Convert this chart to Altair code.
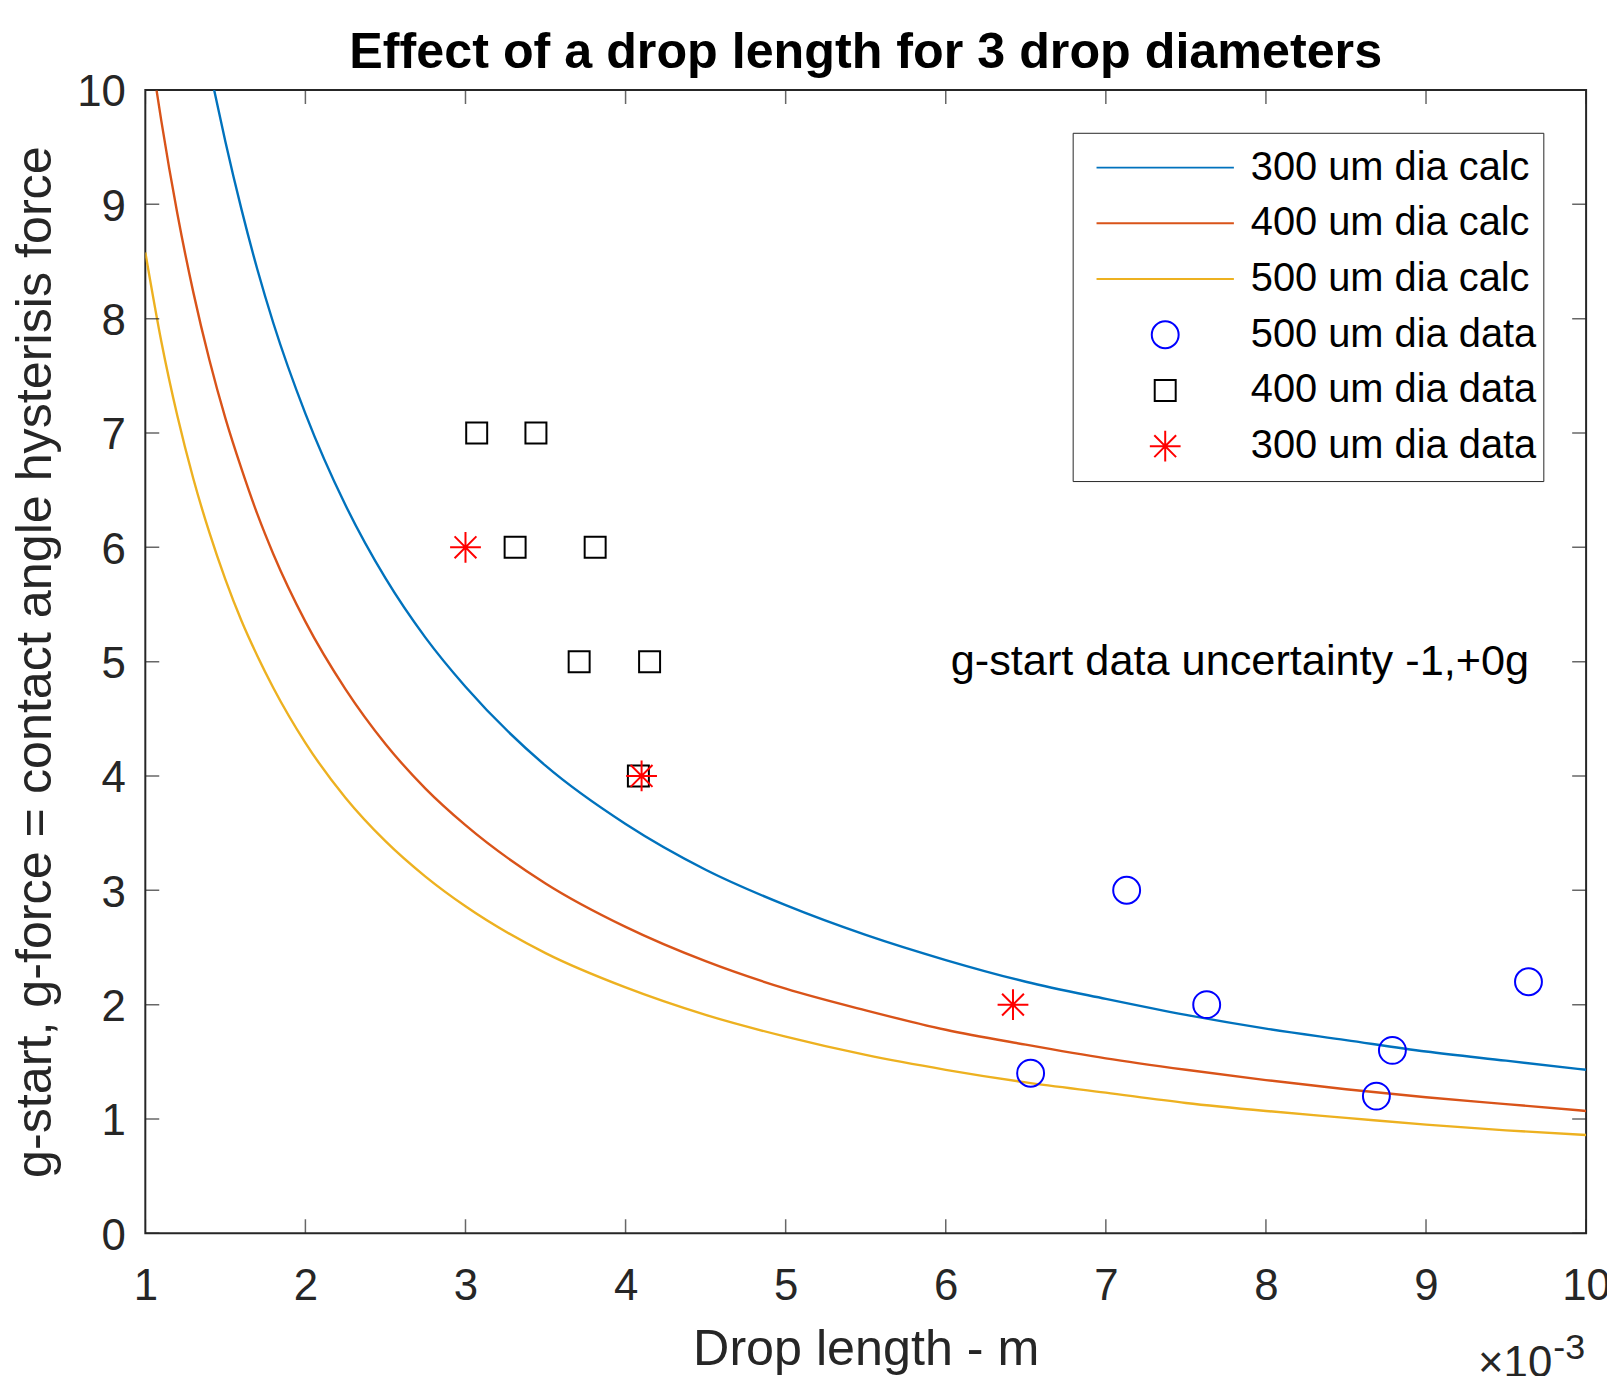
import altair as alt
import pandas as pd

# ---------------- data ----------------
series_names = ["300 um dia calc", "400 um dia calc", "500 um dia calc",
                "500 um dia data", "400 um dia data", "300 um dia data"]

# calculated curves (x in units of 1e-3 m)
calc300_x = [1.43, 1.5, 1.6, 1.7, 1.8, 2.0, 2.25, 2.5, 2.75, 3.0, 3.5, 4.0, 4.5,
             5.0, 5.5, 6.0, 6.5, 7.0, 7.5, 8.0, 8.5, 9.0, 9.5, 10.0]
calc300_y = [10.0, 9.55, 8.96, 8.43, 7.96, 7.17, 6.37, 5.73, 5.21, 4.78, 4.09, 3.58, 3.18,
             2.87, 2.61, 2.39, 2.20, 2.05, 1.91, 1.79, 1.69, 1.59, 1.51, 1.43]
calc400_x = [1.07, 1.1, 1.2, 1.3, 1.4, 1.5, 1.6, 1.7, 1.8, 2.0, 2.25, 2.5, 2.75, 3.0, 3.5,
             4.0, 4.5, 5.0, 5.5, 6.0, 6.5, 7.0, 7.5, 8.0, 8.5, 9.0, 9.5, 10.0]
calc400_y = [10.0, 9.73, 8.92, 8.23, 7.64, 7.13, 6.69, 6.29, 5.94, 5.35, 4.76, 4.28, 3.89, 3.57, 3.06,
             2.68, 2.38, 2.14, 1.95, 1.78, 1.65, 1.53, 1.43, 1.34, 1.26, 1.19, 1.13, 1.07]
calc500_x = [1.0, 1.1, 1.2, 1.3, 1.4, 1.5, 1.6, 1.7, 1.8, 2.0, 2.25, 2.5, 2.75, 3.0, 3.5,
             4.0, 4.5, 5.0, 5.5, 6.0, 6.5, 7.0, 7.5, 8.0, 8.5, 9.0, 9.5, 10.0]
calc500_y = [8.58, 7.80, 7.15, 6.60, 6.13, 5.72, 5.36, 5.05, 4.77, 4.29, 3.81, 3.43, 3.12, 2.86, 2.45,
             2.15, 1.91, 1.72, 1.56, 1.43, 1.32, 1.23, 1.14, 1.07, 1.01, 0.95, 0.90, 0.86]

# measured data
data500_x = [6.53, 7.13, 7.63, 8.69, 8.79, 9.64]
data500_y = [1.4, 3.0, 2.0, 1.2, 1.6, 2.2]
data400_x = [3.07, 3.44, 3.31, 3.81, 3.71, 4.15, 4.08]
data400_y = [7.0, 7.0, 6.0, 6.0, 5.0, 5.0, 4.0]
data300_x = [3.0, 4.10, 6.42]
data300_y = [6.0, 4.0, 2.0]

x_ticks = [1, 2, 3, 4, 5, 6, 7, 8, 9, 10]
y_ticks = [0, 1, 2, 3, 4, 5, 6, 7, 8, 9, 10]

title_text = ["Effect of a drop length for 3 drop diameters"]
x_title = "Drop length - m"
y_title = "g-start, g-force = contact angle hysterisis force"
note_text = ["g-start data uncertainty -1,+0g"]
exp_base = ["\u00d710"]
exp_power = ["-3"]

# ---------------- tables ----------------
line_df = pd.concat([
    pd.DataFrame({"x": calc300_x, "y": calc300_y, "series": series_names[0]}),
    pd.DataFrame({"x": calc400_x, "y": calc400_y, "series": series_names[1]}),
    pd.DataFrame({"x": calc500_x, "y": calc500_y, "series": series_names[2]}),
], ignore_index=True)
pt_df = pd.concat([
    pd.DataFrame({"x": data500_x, "y": data500_y, "series": series_names[3]}),
    pd.DataFrame({"x": data400_x, "y": data400_y, "series": series_names[4]}),
    pd.DataFrame({"x": data300_x, "y": data300_y, "series": series_names[5]}),
], ignore_index=True)
xt_df = pd.DataFrame({"v": x_ticks})
yt_df = pd.DataFrame({"v": y_ticks})

# ---------------- styles ----------------
FONT = "Liberation Sans"
AX = "#262626"
S = 170  # symbol box side (px)
series_colors = ["#0072BD", "#D95319", "#EDB120", "#0000FF", "#000000", "#FF0000"]
line_path = "M-0.812,0H0.812"
circle_path = "M0.159,0A0.159,0.159,0,1,1,-0.159,0A0.159,0.159,0,1,1,0.159,0Z"
square_path = "M-0.124,-0.124H0.124V0.124H-0.124Z"
star_path = ("M0,-0.182V0.182M-0.182,0H0.182"
             "M-0.129,-0.129L0.129,0.129M-0.129,0.129L0.129,-0.129")
series_shapes = [line_path, line_path, line_path, circle_path, square_path, star_path]

xscale = alt.Scale(domain=[1, 10], nice=False, zero=False)
yscale = alt.Scale(domain=[0, 10], nice=False, zero=False)

xaxis = alt.Axis(values=x_ticks, format="d", title=x_title, grid=False, domain=False,
                 ticks=False, tickSize=0, labelFont=FONT, labelFontSize=44,
                 labelColor=AX, labelPadding=67, labelBaseline="alphabetic",
                 labelFlush=False, labelOverlap=False, titleFont=FONT,
                 titleFontSize=50.5, titleFontWeight="normal", titleColor=AX,
                 titleY=132, titleBaseline="alphabetic")
yaxis = alt.Axis(values=y_ticks, format="d", title=y_title, grid=False, domain=False,
                 ticks=False, tickSize=0, labelFont=FONT, labelFontSize=44,
                 labelColor=AX, labelPadding=20, labelBaseline="middle",
                 labelOffset=3, labelFlush=False, labelOverlap=False,
                 titleFont=FONT, titleFontSize=50.5, titleFontWeight="normal",
                 titleColor=AX, titleX=-95, titleY=574.5, titleAngle=270,
                 titleAlign="center", titleBaseline="alphabetic")

legend = alt.Legend(title=None, orient="none", legendX=932, legendY=43, padding=7,
                    strokeColor=AX, fillColor="white", labelFont=FONT,
                    labelFontSize=40, labelColor="black", labelLimit=600,
                    symbolSize=S * S, clipHeight=56, rowPadding=0, labelOffset=0,
                    symbolStrokeWidth=2)

color = alt.Color("series:N", scale=alt.Scale(domain=series_names, range=series_colors),
                  legend=legend)
shape = alt.Shape("series:N", scale=alt.Scale(domain=series_names, range=series_shapes),
                  legend=legend)

X = alt.X("x:Q", scale=xscale, axis=xaxis)
Y = alt.Y("y:Q", scale=yscale, axis=yaxis)

lines = alt.Chart(line_df).mark_line(strokeWidth=2.4, clip=True, interpolate="monotone").encode(
    x=X, y=Y, color=color)

points = alt.Chart(pt_df).mark_point(size=S * S, filled=False, strokeWidth=2,
                                     opacity=1).encode(x=X, y=Y, color=color, shape=shape)

tick_style = dict(size=28, thickness=1.5, color=AX, clip=True)
bottom_ticks = alt.Chart(xt_df).mark_tick(orient="vertical", **tick_style).encode(
    x=alt.X("v:Q", scale=xscale), y=alt.datum(0))
top_ticks = alt.Chart(xt_df).mark_tick(orient="vertical", **tick_style).encode(
    x=alt.X("v:Q", scale=xscale), y=alt.datum(10))
left_ticks = alt.Chart(yt_df).mark_tick(orient="horizontal", **tick_style).encode(
    y=alt.Y("v:Q", scale=yscale), x=alt.datum(1))
right_ticks = alt.Chart(yt_df).mark_tick(orient="horizontal", **tick_style).encode(
    y=alt.Y("v:Q", scale=yscale), x=alt.datum(10))

title = alt.Chart(pd.DataFrame({"label": title_text})).mark_text(
    align="center", baseline="alphabetic", font=FONT, fontSize=50.5, fontWeight="bold",
    color="black").encode(x=alt.value(724), y=alt.value(-22), text="label:N")

note = alt.Chart(pd.DataFrame({"label": note_text})).mark_text(
    align="left", baseline="middle", font=FONT, fontSize=43.5, color="black", dx=5).encode(
    x=alt.datum(6), y=alt.datum(5), text="label:N")

exp1 = alt.Chart(pd.DataFrame({"label": exp_base})).mark_text(
    align="right", baseline="alphabetic", font=FONT, fontSize=44, color=AX, dx=-34).encode(
    x=alt.datum(10), y=alt.value(1293), text="label:N")
exp2 = alt.Chart(pd.DataFrame({"label": exp_power})).mark_text(
    align="left", baseline="alphabetic", font=FONT, fontSize=36, color=AX, dx=-33).encode(
    x=alt.datum(10), y=alt.value(1275), text="label:N")

chart = alt.layer(lines, points, bottom_ticks, top_ticks, left_ticks, right_ticks,
                  title, note, exp1, exp2).properties(
    width=1448, height=1149,
    autosize=alt.AutoSizeParams(type="none"),
    padding={"left": 138, "top": 79, "right": 21, "bottom": 140},
).configure(background="white").configure_view(stroke=AX, strokeWidth=2)

chart.save("out.html", embed_options={"renderer": "svg", "actions": False})
